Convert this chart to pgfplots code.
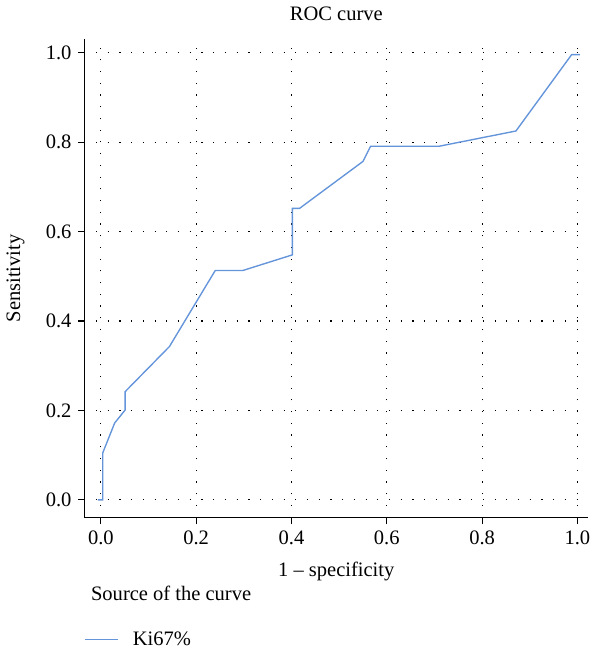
\documentclass[border=0pt]{standalone}
\usepackage{fontspec}
\setmainfont{Liberation Serif}
\usepackage{pgfplots}
\pgfplotsset{compat=1.18}
\definecolor{rocblue}{RGB}{100,148,218}
\begin{document}
\begin{tikzpicture}[font=\fontsize{10.5}{12.5}\selectfont]
  \begin{axis}[
    width=258pt, height=245pt,
    scale only axis,
    xmin=-0.035, xmax=1.023,
    ymin=-0.04, ymax=1.031,
    axis x line=bottom,
    axis y line=left,
    axis line style={-, line width=0.6pt},
    xtick={0,0.2,...,1.0},
    ytick={0,0.2,...,1.0},
    tick align=outside,
    major tick length=3pt,
    tick style={black, line width=0.6pt},
    /pgf/number format/assume math mode=true,
    /pgf/number format/fixed,
    /pgf/number format/fixed zerofill,
    /pgf/number format/precision=1,
    grid=major,
    major grid style={black, line width=0.6pt, dash pattern=on 0.6pt off 5.4pt},
    title={ROC curve},
    title style={yshift=0pt},
    xlabel={1 -- specificity},
    ylabel={Sensitivity},
    xlabel style={yshift=-2pt},
    ylabel style={yshift=4pt},
    legend style={at={(rel axis cs:0,-0.255)}, anchor=west, draw=none, fill=none,
      inner xsep=0pt, inner ysep=0pt, font=\fontsize{10.5}{12.5}\selectfont},
    legend cell align=left,
    legend image code/.code={\draw[#1] (0pt,0pt) -- (17pt,0pt);},
    clip=false,
  ]
    \addplot[rocblue, line width=0.7pt] coordinates {
      (-0.006,0) (0.004,0) (0.004,0.105) (0.029,0.172) (0.051,0.201)
      (0.051,0.242) (0.144,0.343) (0.240,0.513) (0.298,0.513)
      (0.402,0.548) (0.402,0.652) (0.417,0.652) (0.550,0.757)
      (0.566,0.791) (0.710,0.791) (0.871,0.825) (0.988,0.996) (1.005,0.996)
    };
    \addlegendentry{\hspace{5pt}Ki67\%}
    \node[anchor=west] at (rel axis cs:0,-0.158) {Source of the curve};
  \end{axis}
\end{tikzpicture}
\end{document}
